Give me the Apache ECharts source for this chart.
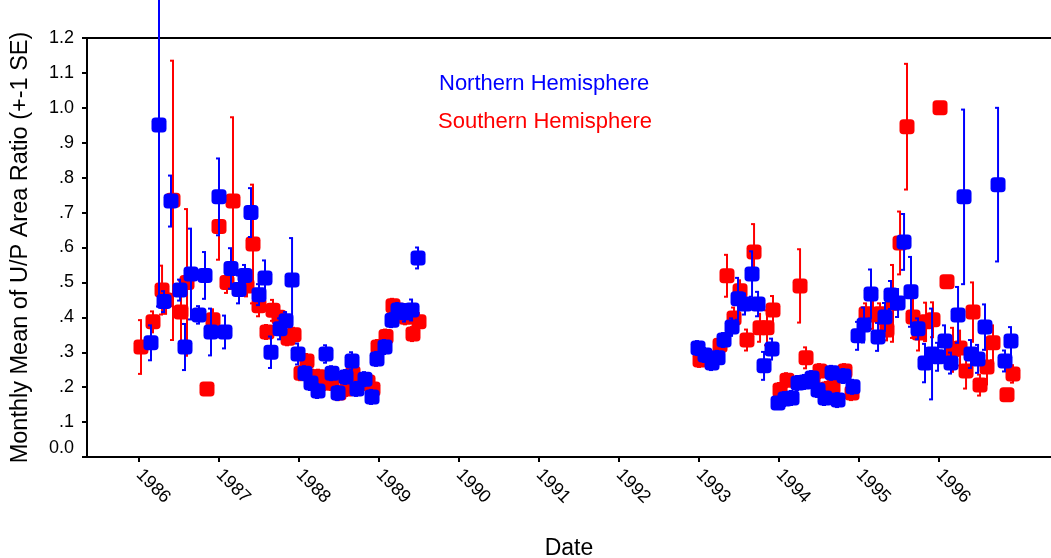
<!DOCTYPE html>
<html>
<head>
<meta charset="utf-8">
<script src="https://cdn.jsdelivr.net/npm/echarts@6/dist/echarts.min.js"></script>
<style>
  html, body { margin: 0; padding: 0; background: #fff; }
  #chart { width: 1051px; height: 558px; }
</style>
</head>
<body>
<div id="chart"></div>
<script>
// Northern hemisphere: date (decimal year), monthly mean, SE
const northDates = [
  1986.150, 1986.250, 1986.313, 1986.400, 1986.513, 1986.575, 1986.650, 1986.750, 1986.825, 1986.900,
  1987.000, 1987.075, 1987.150, 1987.250, 1987.325, 1987.400, 1987.500, 1987.575, 1987.650, 1987.763,
  1987.838, 1987.913, 1987.988, 1988.075, 1988.150, 1988.238, 1988.338, 1988.413, 1988.488, 1988.588,
  1988.663, 1988.725, 1988.825, 1988.913, 1988.975, 1989.075, 1989.163, 1989.238, 1989.325, 1989.413,
  1989.488,
  1992.988, 1993.075, 1993.163, 1993.238, 1993.313, 1993.413, 1993.488, 1993.575, 1993.663, 1993.738,
  1993.813, 1993.913, 1993.988, 1994.075, 1994.163, 1994.238, 1994.325, 1994.413, 1994.488, 1994.575,
  1994.663, 1994.738, 1994.813, 1994.925, 1994.988, 1995.063, 1995.150, 1995.238, 1995.325, 1995.400,
  1995.488, 1995.563, 1995.650, 1995.738, 1995.825, 1995.913, 1995.988, 1996.075, 1996.150, 1996.238,
  1996.313, 1996.400, 1996.488, 1996.575, 1996.738, 1996.825, 1996.900
];
const northMeans = [
  0.327, 0.951, 0.445, 0.733, 0.478, 0.315, 0.524, 0.407, 0.520, 0.358,
  0.745, 0.358, 0.540, 0.480, 0.520, 0.700, 0.465, 0.513, 0.300, 0.367,
  0.390, 0.507, 0.295, 0.240, 0.212, 0.189, 0.295, 0.240, 0.183, 0.229,
  0.275, 0.195, 0.223, 0.172, 0.281, 0.315, 0.392, 0.421, 0.413, 0.421,
  0.570,
  0.312, 0.292, 0.269, 0.284, 0.335, 0.372, 0.453, 0.438, 0.524, 0.438,
  0.261, 0.309, 0.155, 0.166, 0.169, 0.212, 0.215, 0.226, 0.192, 0.169,
  0.241, 0.163, 0.232, 0.201, 0.347, 0.378, 0.467, 0.344, 0.401, 0.464,
  0.441, 0.616, 0.473, 0.367, 0.269, 0.295, 0.287, 0.332, 0.269, 0.407,
  0.745, 0.295, 0.281, 0.372, 0.780, 0.275, 0.332
];
const northSE = [
  0.050, 0.520, 0.030, 0.073, 0.030, 0.066, 0.130, 0.025, 0.067, 0.067,
  0.110, 0.047, 0.058, 0.040, 0.030, 0.070, 0.030, 0.050, 0.045, 0.030,
  0.025, 0.120, 0.030, 0.020, 0.020, 0.020, 0.025, 0.020, 0.020, 0.020,
  0.025, 0.020, 0.020, 0.020, 0.020, 0.020, 0.020, 0.020, 0.025, 0.030,
  0.030,
  0.020, 0.020, 0.020, 0.020, 0.020, 0.025, 0.060, 0.030, 0.065, 0.035,
  0.040, 0.030, 0.015, 0.020, 0.020, 0.020, 0.020, 0.020, 0.020, 0.020,
  0.020, 0.020, 0.020, 0.020, 0.040, 0.050, 0.070, 0.040, 0.040, 0.040,
  0.040, 0.080, 0.100, 0.030, 0.055, 0.130, 0.040, 0.045, 0.030, 0.080,
  0.250, 0.040, 0.040, 0.065, 0.220, 0.030, 0.040
];

// Southern hemisphere
const southDates = [
  1986.025, 1986.175, 1986.288, 1986.338, 1986.425, 1986.525, 1986.600, 1986.850, 1986.925, 1987.000,
  1987.100, 1987.175, 1987.350, 1987.425, 1987.500, 1987.600, 1987.675, 1987.750, 1987.863, 1987.938,
  1988.025, 1988.100, 1988.175, 1988.250, 1988.325, 1988.413, 1988.500, 1988.600, 1988.675, 1988.763,
  1988.863, 1988.925, 1988.988, 1989.088, 1989.175, 1989.250, 1989.338, 1989.425, 1989.500,
  1993.013, 1993.100, 1993.263, 1993.350, 1993.438, 1993.513, 1993.600, 1993.688, 1993.763, 1993.850,
  1993.925, 1994.013, 1994.100, 1994.263, 1994.338, 1994.425, 1994.513, 1994.600, 1994.675, 1994.763,
  1994.825, 1994.913, 1995.088, 1995.175, 1995.263, 1995.350, 1995.425, 1995.513, 1995.600, 1995.675,
  1995.750, 1995.838, 1995.925, 1996.013, 1996.100, 1996.175, 1996.263, 1996.338, 1996.425, 1996.513,
  1996.600, 1996.675, 1996.850, 1996.925
];
const southMeans = [
  0.315, 0.387, 0.478, 0.450, 0.735, 0.415, 0.500, 0.195, 0.393, 0.660,
  0.500, 0.733, 0.490, 0.610, 0.433, 0.358, 0.420, 0.400, 0.340, 0.350,
  0.240, 0.275, 0.230, 0.230, 0.212, 0.212, 0.183, 0.195, 0.240, 0.210,
  0.215, 0.195, 0.315, 0.345, 0.433, 0.420, 0.400, 0.352, 0.387,
  0.278, 0.285, 0.320, 0.519, 0.398, 0.476, 0.335, 0.587, 0.370, 0.370,
  0.421, 0.192, 0.220, 0.490, 0.284, 0.225, 0.246, 0.195, 0.200, 0.235,
  0.246, 0.183, 0.410, 0.407, 0.410, 0.364, 0.440, 0.613, 0.946, 0.401,
  0.355, 0.387, 0.393, 1.000, 0.502, 0.307, 0.312, 0.246, 0.415, 0.206,
  0.258, 0.327, 0.178, 0.238
];
const southSE = [
  0.077, 0.030, 0.070, 0.040, 0.400, 0.090, 0.210, 0.010, 0.030, 0.095,
  0.030, 0.240, 0.030, 0.170, 0.030, 0.020, 0.030, 0.030, 0.020, 0.020,
  0.020, 0.020, 0.020, 0.020, 0.020, 0.020, 0.020, 0.020, 0.020, 0.020,
  0.020, 0.020, 0.020, 0.020, 0.020, 0.020, 0.020, 0.020, 0.025,
  0.020, 0.020, 0.020, 0.060, 0.030, 0.030, 0.030, 0.080, 0.040, 0.050,
  0.040, 0.020, 0.020, 0.105, 0.030, 0.020, 0.020, 0.020, 0.020, 0.020,
  0.020, 0.020, 0.030, 0.040, 0.030, 0.030, 0.110, 0.090, 0.180, 0.060,
  0.050, 0.055, 0.050, 0.005, 0.005, 0.063, 0.050, 0.050, 0.085, 0.030,
  0.050, 0.050, 0.005, 0.025
];

const yearTicks = [1986, 1987, 1988, 1989, 1990, 1991, 1992, 1993, 1994, 1995, 1996];

const BLUE = '#0000ff';
const RED = '#ff0000';
const FONT = 'Liberation Sans, Arial, sans-serif';

function barData(dates, means, se) {
  return dates.map((d, i) => [d, means[i] - se[i], means[i] + se[i]]);
}
function pointData(dates, means) {
  return dates.map((d, i) => [d, means[i]]);
}

// error bar with small caps
function errorBar(color) {
  return function (params, api) {
    const x = api.value(0);
    const top = api.coord([x, api.value(2)]);
    const bot = api.coord([x, api.value(1)]);
    const w = 3;
    const st = { stroke: color, lineWidth: 2 };
    return {
      type: 'group',
      children: [
        { type: 'line', shape: { x1: top[0], y1: top[1], x2: bot[0], y2: bot[1] }, style: st },
        { type: 'line', shape: { x1: top[0] - w, y1: top[1], x2: top[0] + 1, y2: top[1] }, style: st },
        { type: 'line', shape: { x1: bot[0] - w, y1: bot[1], x2: bot[0] + 1, y2: bot[1] }, style: st }
      ]
    };
  };
}

const chart = echarts.init(document.getElementById('chart'));

const option = {
  backgroundColor: '#fff',
  animation: false,
  textStyle: { fontFamily: FONT },
  grid: { left: 87, right: 0, top: 38, bottom: 101, outerBoundsMode: 'none', containLabel: false },
  xAxis: [{
    type: 'value',
    min: 1985.35,
    max: 1997.4,
    name: 'Date',
    nameLocation: 'middle',
    nameGap: 80,
    nameTextStyle: { fontSize: 23, color: '#000', fontFamily: FONT },
    axisLine: { lineStyle: { color: '#000', width: 2 } },
    axisTick: { show: true, customValues: yearTicks, length: 5, lineStyle: { color: '#000', width: 2 } },
    axisLabel: {
      customValues: yearTicks,
      rotate: -45,
      margin: 15,
      fontSize: 18,
      color: '#000',
      fontFamily: FONT,
      formatter: function (v) { return String(Math.round(v)); }
    },
    splitLine: { show: false }
  }, {
    type: 'value',
    position: 'top',
    min: 1985.35,
    max: 1997.4,
    axisLine: { show: true, lineStyle: { color: '#000', width: 2 } },
    axisTick: { show: false },
    axisLabel: { show: false },
    splitLine: { show: false }
  }],
  yAxis: {
    type: 'value',
    min: 0,
    max: 1.2,
    interval: 0.1,
    name: 'Monthly Mean of U/P Area Ratio (+-1 SE)',
    nameLocation: 'middle',
    nameGap: 54,
    nameTextStyle: { fontSize: 23.5, color: '#000', fontFamily: FONT },
    axisLine: { show: true, lineStyle: { color: '#000', width: 2 } },
    axisTick: { show: true, length: 5, lineStyle: { color: '#000', width: 2 } },
    axisLabel: {
      fontSize: 18,
      color: '#000',
      margin: 13,
      fontFamily: FONT,
      verticalAlignMinLabel: 'bottom',
      formatter: function (v) {
        if (v === 0) return '0.0';
        const s = v.toFixed(1);
        return v < 1 ? s.replace('0.', '.') : s;
      }
    },
    splitLine: { show: false }
  },
  graphic: [
    { type: 'text', left: 439, top: 73, style: { text: 'Northern Hemisphere', fill: BLUE, font: '22px ' + FONT } },
    { type: 'text', left: 438, top: 111, style: { text: 'Southern Hemisphere', fill: RED, font: '22px ' + FONT } }
  ],
  series: [
    {
      name: 'Southern Hemisphere SE',
      type: 'custom',
      renderItem: errorBar(RED),
      clip: false,
      encode: { x: 0, y: [1, 2] },
      data: barData(southDates, southMeans, southSE),
      z: 1
    },
    {
      name: 'Southern Hemisphere',
      type: 'scatter',
      symbol: 'roundRect',
      symbolSize: 15,
      itemStyle: { color: RED, opacity: 1 },
      data: pointData(southDates, southMeans),
      z: 2
    },
    {
      name: 'Northern Hemisphere SE',
      type: 'custom',
      renderItem: errorBar(BLUE),
      clip: false,
      encode: { x: 0, y: [1, 2] },
      data: barData(northDates, northMeans, northSE),
      z: 3
    },
    {
      name: 'Northern Hemisphere',
      type: 'scatter',
      symbol: 'roundRect',
      symbolSize: 15,
      itemStyle: { color: BLUE, opacity: 1 },
      data: pointData(northDates, northMeans),
      z: 4
    }
  ]
};

chart.setOption(option);
</script>
</body>
</html>
